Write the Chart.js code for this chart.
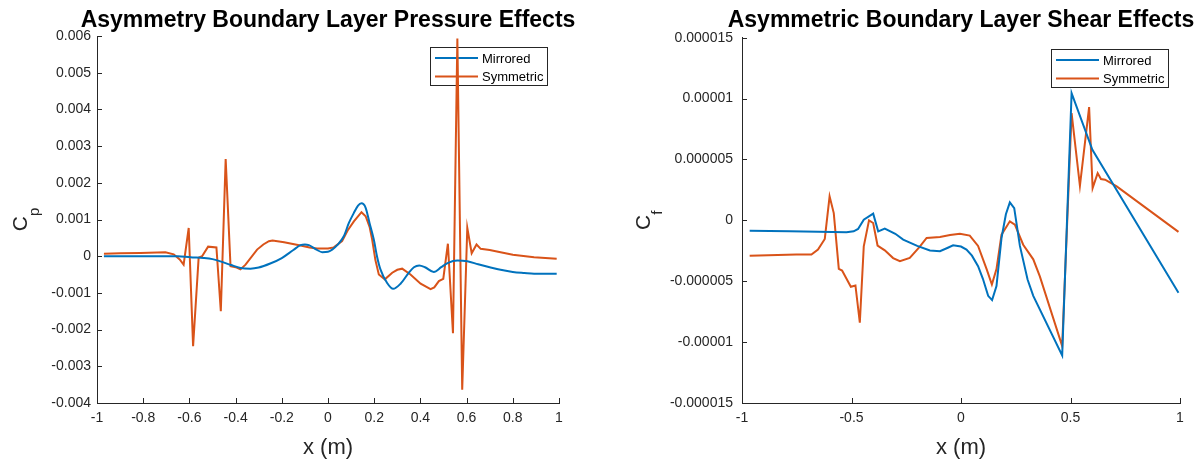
<!DOCTYPE html>
<html><head><meta charset="utf-8">
<script src="https://cdn.jsdelivr.net/npm/chart.js@4.4.0/dist/chart.umd.min.js"></script>
<style>
html,body{margin:0;padding:0;background:#fff;}
#wrap{position:relative;width:1203px;height:461px;overflow:hidden;background:#fff;}
.box{position:absolute;top:0;height:461px;}
canvas{display:block;}
</style></head><body>
<div id="wrap">
<div class="box" style="left:0;width:600px"><canvas id="c1" width="600" height="461" style="width:600px;height:461px"></canvas></div>
<div class="box" style="left:600px;width:603px"><canvas id="c2" width="603" height="461" style="width:603px;height:461px"></canvas></div>
</div>
<script>
// ---------- Pressure chart data (Cp vs x) ----------
const cpMirroredX = [-0.97,-0.8,-0.65,-0.596,-0.538,-0.5,-0.466,-0.42,-0.379,-0.336,-0.3,-0.25,-0.2,-0.15,-0.119,-0.1,-0.083,-0.05,-0.025,0,0.018,0.04,0.069,0.09,0.112,0.13,0.145,0.163,0.18,0.198,0.212,0.227,0.256,0.282,0.314,0.35,0.372,0.395,0.42,0.458,0.49,0.52,0.56,0.603,0.65,0.7,0.747,0.8,0.85,0.892,0.95,0.99];
const cpMirroredY = [0,0,0,-0.00003,-0.00005,-0.00008,-0.00014,-0.00024,-0.00032,-0.00034,-0.00031,-0.0002,-0.00005,0.00017,0.0003,0.00032,0.0003,0.00018,0.00011,0.00012,0.00018,0.0003,0.00055,0.0009,0.00118,0.00138,0.00144,0.00132,0.0009,0.00046,0.0000,-0.00036,-0.00073,-0.00089,-0.00075,-0.00045,-0.0003,-0.00025,-0.0003,-0.00043,-0.0003,-0.00018,-0.00012,-0.00014,-0.00022,-0.0003,-0.00037,-0.00043,-0.00046,-0.00048,-0.00048,-0.00048];
const cpSymmetricX = [-0.97,-0.9,-0.812,-0.704,-0.668,-0.642,-0.625,-0.603,-0.584,-0.56,-0.545,-0.519,-0.483,-0.464,-0.443,-0.422,-0.4,-0.379,-0.357,-0.307,-0.28,-0.256,-0.24,-0.19,-0.119,-0.08,-0.047,0,0.025,0.061,0.085,0.112,0.145,0.163,0.18,0.191,0.205,0.22,0.246,0.278,0.3,0.321,0.357,0.401,0.444,0.46,0.48,0.499,0.519,0.541,0.56,0.581,0.603,0.622,0.643,0.661,0.7,0.747,0.8,0.892,0.99];
const cpSymmetricY = [0.00007,0.00008,0.00009,0.00011,0.00005,-0.00009,-0.00023,0.00077,-0.00245,-0.00004,0,0.00026,0.00024,-0.0015,0.00265,-0.00027,-0.0003,-0.00036,-0.00023,0.00018,0.00032,0.00041,0.00043,0.00038,0.00029,0.00024,0.00021,0.00021,0.00024,0.00041,0.0007,0.00095,0.0012,0.00109,0.0008,0.00046,-0.0001,-0.0005,-0.00063,-0.00045,-0.00037,-0.00034,-0.0005,-0.00075,-0.0009,-0.00085,-0.00068,-0.00062,0.00034,-0.0021,0.00593,-0.00364,0.00077,0.00008,0.00032,0.0002,0.00017,0.00011,0.00004,-0.00003,-0.00007];
const cpXTicks = [-1,-0.8,-0.6,-0.4,-0.2,0,0.2,0.4,0.6,0.8,1];
const cpXLabels = ['-1','-0.8','-0.6','-0.4','-0.2','0','0.2','0.4','0.6','0.8','1'];
const cpYTicks = [-0.004,-0.003,-0.002,-0.001,0,0.001,0.002,0.003,0.004,0.005,0.006];
const cpYLabels = ['-0.004','-0.003','-0.002','-0.001','0','0.001','0.002','0.003','0.004','0.005','0.006'];

// ---------- Shear chart data (Cf vs x) ----------
const cfMirroredX = [-0.965,-0.782,-0.523,-0.49,-0.47,-0.444,-0.401,-0.378,-0.348,-0.3,-0.264,-0.2,-0.142,-0.096,-0.06,-0.036,0,0.025,0.05,0.078,0.1,0.124,0.142,0.162,0.185,0.205,0.223,0.243,0.269,0.304,0.33,0.462,0.505,0.6,0.993];
const cfMirroredY = [-0.85e-6,-0.9e-6,-0.98e-6,-0.9e-6,-0.71e-6,0.06e-6,0.55e-6,-0.9e-6,-0.68e-6,-1.1e-6,-1.58e-6,-2.1e-6,-2.48e-6,-2.54e-6,-2.25e-6,-2.05e-6,-2.15e-6,-2.4e-6,-2.9e-6,-3.77e-6,-4.8e-6,-6.2e-6,-6.55e-6,-5.4e-6,-1.45e-6,0.5e-6,1.48e-6,1.0e-6,-2.1e-6,-4.86e-6,-6.2e-6,-11.1e-6,10.44e-6,5.8e-6,-5.95e-6];
const cfSymmetricX = [-0.965,-0.752,-0.683,-0.653,-0.622,-0.6,-0.581,-0.558,-0.543,-0.503,-0.482,-0.462,-0.444,-0.42,-0.401,-0.381,-0.348,-0.31,-0.279,-0.234,-0.19,-0.157,-0.096,-0.05,-0.005,0.04,0.078,0.117,0.141,0.162,0.185,0.223,0.246,0.284,0.33,0.36,0.462,0.505,0.543,0.585,0.601,0.624,0.639,0.658,0.711,0.993];
const cfSymmetricY = [-2.9e-6,-2.8e-6,-2.81e-6,-2.4e-6,-1.53e-6,1.97e-6,0.6e-6,-3.98e-6,-4.12e-6,-5.46e-6,-5.35e-6,-8.41e-6,-2.13e-6,0,-0.22e-6,-2.07e-6,-2.46e-6,-3.1e-6,-3.36e-6,-3.08e-6,-2.2e-6,-1.44e-6,-1.36e-6,-1.2e-6,-1.1e-6,-1.25e-6,-2.1e-6,-4.0e-6,-5.27e-6,-4.0e-6,-1.17e-6,-0.08e-6,-0.35e-6,-2.0e-6,-3.2e-6,-4.6e-6,-10.33e-6,8.8e-6,2.84e-6,9.3e-6,2.65e-6,3.88e-6,3.39e-6,3.34e-6,2.79e-6,-0.95e-6];
const cfXTicks = [-1,-0.5,0,0.5,1];
const cfXLabels = ['-1','-0.5','0','0.5','1'];
const cfYTicks = [-0.000015,-0.00001,-0.000005,0,0.000005,0.00001,0.000015];
const cfYLabels = ['-0.000015','-0.00001','-0.000005','0','0.000005','0.00001','0.000015'];

const seriesNames = ['Mirrored','Symmetric'];
const seriesColors = ['#0072BD','#D95319'];

const FONT = "'Liberation Sans', Arial, Helvetica, sans-serif";
const AXIS = '#262626';

function inwardTicks(len){
  return {id:'inwardTicks', afterDraw(chart){
    const ctx=chart.ctx, a=chart.chartArea, xs=chart.scales.x, ys=chart.scales.y;
    ctx.save(); ctx.strokeStyle=AXIS; ctx.lineWidth=1; ctx.beginPath();
    xs.ticks.forEach(t=>{const p=Math.round(xs.getPixelForValue(t.value))+0.5; ctx.moveTo(p,a.bottom); ctx.lineTo(p,a.bottom-len);});
    ys.ticks.forEach(t=>{const p=Math.round(ys.getPixelForValue(t.value))+0.5; ctx.moveTo(a.left,p); ctx.lineTo(a.left+len,p);});
    ctx.stroke(); ctx.restore();
  }};
}
function yLabel(main, sub, offsetLeft){
  return {id:'yLabel', afterDraw(chart){
    const ctx=chart.ctx, a=chart.chartArea;
    ctx.save();
    const mf='21px '+FONT, sf='15px '+FONT;
    ctx.font=mf; const wm=ctx.measureText(main).width;
    ctx.font=sf; const ws=ctx.measureText(sub).width;
    const total=wm+ws;
    ctx.translate(a.left-offsetLeft,(a.top+a.bottom)/2+total/2);
    ctx.rotate(-Math.PI/2);
    ctx.fillStyle=AXIS; ctx.textAlign='left'; ctx.textBaseline='alphabetic';
    ctx.font=mf; ctx.fillText(main,0,0);
    ctx.font=sf; ctx.fillText(sub,wm,12);
    ctx.restore();
  }};
}
function chartTitle(text, baseline){
  return {id:'chartTitle', afterDraw(chart){
    const ctx=chart.ctx, a=chart.chartArea;
    ctx.save();
    ctx.font='bold 23px '+FONT; ctx.fillStyle='#000';
    ctx.textAlign='center'; ctx.textBaseline='alphabetic';
    ctx.fillText(text,(a.left+a.right)/2,baseline);
    ctx.restore();
  }};
}
const legendBox = {id:'legendBox', beforeDatasetsDraw(chart){
  const ctx=chart.ctx, a=chart.chartArea;
  const w=117, h=38, x=Math.round(a.right-12-w), y=Math.round(a.top+11);
  ctx.save();
  ctx.fillStyle='#fff'; ctx.fillRect(x,y,w,h);
  ctx.strokeStyle=AXIS; ctx.lineWidth=1; ctx.strokeRect(x+0.5,y+0.5,w,h);
  ctx.font='13px '+FONT; ctx.textBaseline='middle'; ctx.textAlign='left';
  chart.data.datasets.forEach((ds,i)=>{
    const ry=y+11+i*18.4;
    ctx.strokeStyle=ds.borderColor; ctx.lineWidth=2;
    ctx.beginPath(); ctx.moveTo(x+5,ry); ctx.lineTo(x+48,ry); ctx.stroke();
    ctx.fillStyle='#000'; ctx.fillText(ds.label,x+52,ry+1);
  });
  ctx.restore();
}};

function makeChart(id, o){
  const mk=(xs,ys)=>xs.map((x,i)=>({x:x,y:ys[i]}));
  return new Chart(document.getElementById(id), {
    type:'line',
    data:{datasets:[
      {label:seriesNames[0], data:mk(o.mx,o.my), borderColor:seriesColors[0], borderWidth:2, pointRadius:0, fill:false, tension:0, cubicInterpolationMode:o.smooth?'monotone':'default'},
      {label:seriesNames[1], data:mk(o.sx,o.sy), borderColor:seriesColors[1], borderWidth:2, pointRadius:0, fill:false, tension:0}
    ]},
    options:{
      responsive:false, animation:false, devicePixelRatio:1,
      layout:{padding:{left:0,right:o.padRight,top:o.padTop,bottom:0}},
      plugins:{ legend:{display:false}, tooltip:{enabled:false}, title:{display:false} },
      scales:{
        x:{type:'linear', min:-1, max:1,
          afterBuildTicks:s=>{s.ticks=o.xTicks.map(v=>({value:v}));},
          afterFit:s=>{s.height=58;},
          grid:{display:false, drawTicks:false},
          border:{display:true, color:AXIS, width:1},
          ticks:{color:AXIS, font:{family:FONT,size:14}, padding:7, maxRotation:0, autoSkip:false, callback:(v,i)=>o.xLabels[i]},
          title:{display:true, text:'x (m)', color:AXIS, font:{family:FONT,size:22}, padding:{top:0,bottom:0}}
        },
        y:{type:'linear', min:o.yTicks[0], max:o.yTicks[o.yTicks.length-1],
          afterBuildTicks:s=>{s.ticks=o.yTicks.map(v=>({value:v}));},
          afterFit:s=>{s.width=o.yWidth;},
          grid:{display:false, drawTicks:false},
          border:{display:true, color:AXIS, width:1},
          ticks:{color:AXIS, font:{family:FONT,size:14}, padding:o.yPad, autoSkip:false, callback:(v,i)=>o.yLabels[i]}
        }
      }
    },
    plugins:[legendBox, inwardTicks(5), yLabel(o.ySym, o.ySub, o.yLabelOffset), chartTitle(o.title, 26.5)]
  });
}

makeChart('c1', {mx:cpMirroredX, my:cpMirroredY, sx:cpSymmetricX, sy:cpSymmetricY, smooth:true,
  xTicks:cpXTicks, xLabels:cpXLabels, yTicks:cpYTicks, yLabels:cpYLabels,
  title:'Asymmetry Boundary Layer Pressure Effects', padTop:36,
  padRight:41, yWidth:97, yPad:6, ySym:'C', ySub:'p', yLabelOffset:70});
makeChart('c2', {mx:cfMirroredX, my:cfMirroredY, sx:cfSymmetricX, sy:cfSymmetricY, smooth:false,
  xTicks:cfXTicks, xLabels:cfXLabels, yTicks:cfYTicks, yLabels:cfYLabels,
  title:'Asymmetric Boundary Layer Shear Effects', padTop:37.7,
  padRight:23, yWidth:142, yPad:9, ySym:'C', ySub:'f', yLabelOffset:92});
</script>
</body></html>
